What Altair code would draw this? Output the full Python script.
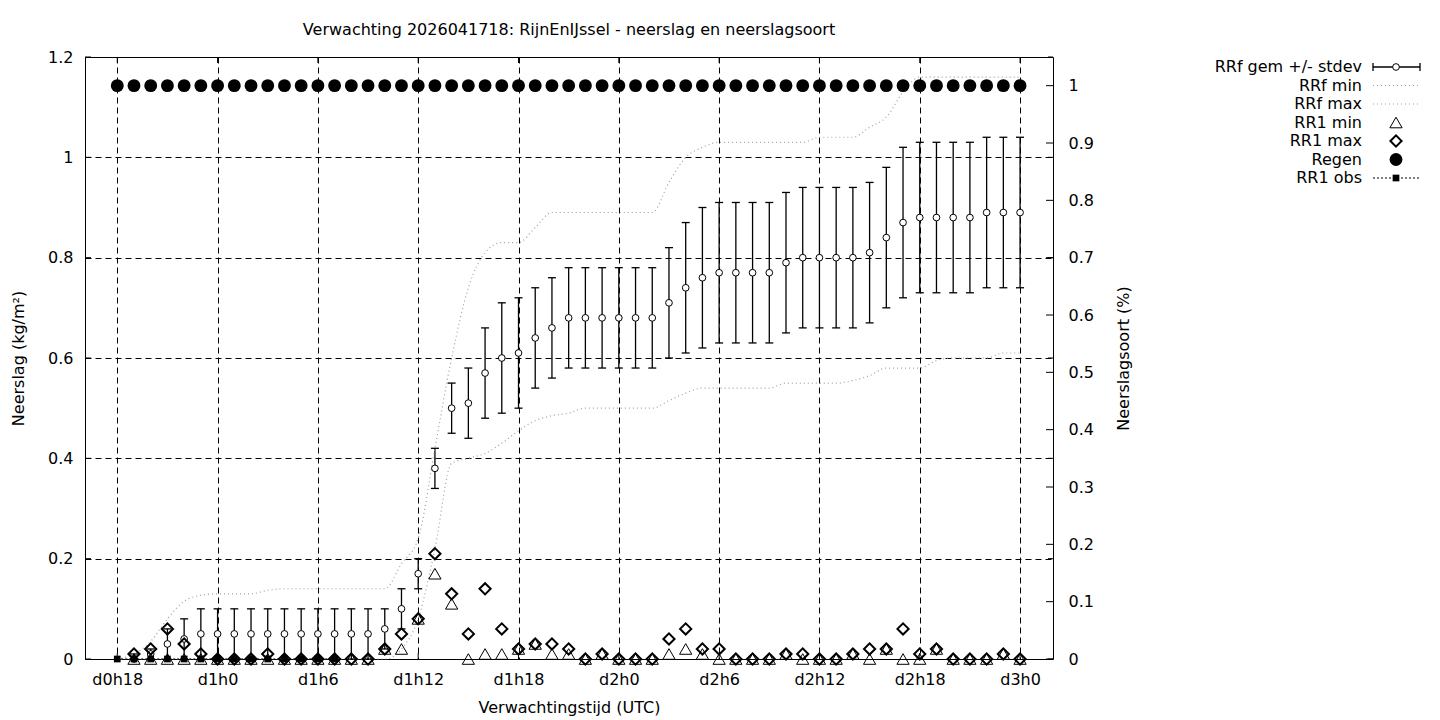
import altair as alt
import pandas as pd

FONT = "DejaVu Sans"
FS = 16
GRAY = "#a0a0a0"

# ---------------- data ----------------
hours = list(range(55))  # hours since d0h18

rrf_mean = [None, 0.00, 0.01, 0.03, 0.04, 0.05,
            0.05, 0.05, 0.05, 0.05, 0.05, 0.05, 0.05, 0.05, 0.05, 0.05,
            0.06, 0.10, 0.17, 0.38, 0.50, 0.51, 0.57, 0.60, 0.61, 0.64,
            0.66, 0.68, 0.68, 0.68, 0.68, 0.68, 0.68, 0.71, 0.74, 0.76,
            0.77, 0.77, 0.77, 0.77, 0.79, 0.80, 0.80, 0.80, 0.80, 0.81,
            0.84, 0.87, 0.88, 0.88, 0.88, 0.88, 0.89, 0.89, 0.89]
rrf_sd = [None, 0.01, 0.01, 0.03, 0.04, 0.05,
          0.05, 0.05, 0.05, 0.05, 0.05, 0.05, 0.05, 0.05, 0.05, 0.05,
          0.04, 0.04, 0.03, 0.04, 0.05, 0.07, 0.09, 0.11, 0.11, 0.10,
          0.10, 0.10, 0.10, 0.10, 0.10, 0.10, 0.10, 0.11, 0.13, 0.14,
          0.14, 0.14, 0.14, 0.14, 0.14, 0.14, 0.14, 0.14, 0.14, 0.14,
          0.14, 0.15, 0.15, 0.15, 0.15, 0.15, 0.15, 0.15, 0.15]
rrf_min = [0.0, 0.0, 0.0, 0.0, 0.0, 0.0, 0.0, 0.0, 0.0, 0.0,
           0.0, 0.0, 0.0, 0.0, 0.0, 0.0, 0.0, 0.02, 0.08, 0.22,
           0.39, 0.40, 0.41, 0.43, 0.455, 0.475, 0.485, 0.49, 0.50, 0.50,
           0.50, 0.50, 0.50, 0.515, 0.53, 0.54, 0.54, 0.54, 0.54, 0.54,
           0.55, 0.55, 0.55, 0.55, 0.555, 0.565, 0.58, 0.58, 0.58, 0.595,
           0.60, 0.60, 0.60, 0.61, 0.61]
rrf_max = [0.0, 0.01, 0.035, 0.08, 0.115, 0.127, 0.13, 0.13, 0.13, 0.137,
           0.14, 0.14, 0.14, 0.14, 0.14, 0.14, 0.14, 0.19, 0.24, 0.42,
           0.60, 0.74, 0.81, 0.83, 0.83, 0.86, 0.89, 0.89, 0.89, 0.89,
           0.89, 0.89, 0.89, 0.95, 1.00, 1.02, 1.03, 1.03, 1.03, 1.03,
           1.03, 1.03, 1.04, 1.04, 1.04, 1.06, 1.08, 1.13, 1.16, 1.16,
           1.16, 1.16, 1.16, 1.16, 1.16]
rr1_min = [None, 0, 0, 0, 0, 0, 0, 0, 0, 0,
           0, 0, 0, 0, 0, 0, 0.02, 0.02, 0.08, 0.17,
           0.11, 0, 0.01, 0.01, 0.02, 0.03, 0.01, 0.01, 0, 0.01,
           0, 0, 0, 0.01, 0.02, 0.01, 0, 0, 0, 0,
           0.01, 0, 0, 0, 0.01, 0, 0.02, 0, 0, 0.02,
           0, 0, 0, 0.01, 0]
rr1_max = [None, 0.01, 0.02, 0.06, 0.03, 0.01, 0, 0, 0, 0.01,
           0, 0, 0, 0, 0, 0, 0.02, 0.05, 0.08, 0.21,
           0.13, 0.05, 0.14, 0.06, 0.02, 0.03, 0.03, 0.02, 0, 0.01,
           0, 0, 0, 0.04, 0.06, 0.02, 0.02, 0, 0, 0,
           0.01, 0.01, 0, 0, 0.01, 0.02, 0.02, 0.06, 0.01, 0.02,
           0, 0, 0, 0.01, 0]
regen = [1, 1, 1, 1, 1, 1, 1, 1, 1, 1, 1, 1, 1, 1, 1, 1, 1, 1, 1, 1,
         1, 1, 1, 1, 1, 1, 1, 1, 1, 1, 1, 1, 1, 1, 1, 1, 1, 1, 1, 1,
         1, 1, 1, 1, 1, 1, 1, 1, 1, 1, 1, 1, 1, 1, 1]
obs_hours = [0, 1, 2, 3, 4, 5, 6, 7, 8, 9, 10, 11, 12, 13]
obs_vals = [0, 0, 0, 0, 0, 0, 0, 0, 0, 0, 0, 0, 0, 0]

x_tick_values = [0, 6, 12, 18, 24, 30, 36, 42, 48, 54]
x_tick_labels = ["d0h18", "d1h0", "d1h6", "d1h12", "d1h18",
                 "d2h0", "d2h6", "d2h12", "d2h18", "d3h0"]
y_tick_values = [0, 0.2, 0.4, 0.6, 0.8, 1.0, 1.2]
y_tick_labels = ["0", "0.2", "0.4", "0.6", "0.8", "1", "1.2"]
y2_tick_values = [0, 0.1, 0.2, 0.3, 0.4, 0.5, 0.6, 0.7, 0.8, 0.9, 1.0]
y2_tick_labels = ["0", "0.1", "0.2", "0.3", "0.4", "0.5",
                  "0.6", "0.7", "0.8", "0.9", "1"]

legend_labels = ["RRf gem +/- stdev", "RRf min", "RRf max",
                 "RR1 min", "RR1 max", "Regen", "RR1 obs"]
legend_kinds = ["err", "min", "max", "tri", "dia", "rain", "obs"]

title_text = "Verwachting 2026041718: RijnEnIJssel - neerslag en neerslagsoort"

# ---------------- frames ----------------
df = pd.DataFrame({
    "h": hours, "mean": rrf_mean, "sd": rrf_sd, "rmin": rrf_min,
    "rmax": rrf_max, "r1min": rr1_min, "r1max": rr1_max, "regen": regen,
})
obs = pd.DataFrame({"h": obs_hours, "v": obs_vals})
xt = pd.DataFrame({"v": x_tick_values})
yt = pd.DataFrame({"v": y_tick_values})
y2t = pd.DataFrame({"v": y2_tick_values})

W, H = 968, 602

xscale = alt.Scale(domain=[-1.93, 55.97], nice=False, zero=False)
yscale = alt.Scale(domain=[0, 1.2], nice=False, zero=False)
y2scale = alt.Scale(domain=[0, 1.05], nice=False, zero=False)

common_axis = dict(labelFont=FONT, labelFontSize=FS, labelColor="black",
                   titleFont=FONT, titleFontSize=FS, titleFontWeight="normal",
                   titleColor="black", ticks=False, domain=False,
                   labelFlush=False)


def list_expr(labels, idx):
    return "[" + ",".join("'%s'" % s for s in labels) + "][" + idx + "]"


# the same x axis definition is given to every layer so the shared axis stays enabled
x_axis = alt.Axis(values=x_tick_values,
                  labelExpr=list_expr(x_tick_labels, "round(datum.value/6)"),
                  title="Verwachtingstijd (UTC)", grid=True, gridColor="black",
                  gridDash=[6, 4], gridWidth=1, gridOpacity=1, labelPadding=12,
                  titleX=484, titleY=48, titleBaseline="middle",
                  **common_axis)
y_axis = alt.Axis(values=y_tick_values, orient="left",
                  labelExpr=list_expr(y_tick_labels, "round(datum.value*5)"),
                  title="Neerslag (kg/m²)", grid=True, gridColor="black",
                  gridDash=[6, 4], gridWidth=1, gridOpacity=1, labelPadding=12,
                  titleX=-67, titleY=301, titleAngle=270, titleBaseline="middle",
                  **common_axis)
y2_axis = alt.Axis(values=y2_tick_values, orient="right",
                   labelExpr=list_expr(y2_tick_labels, "round(datum.value*10)"),
                   title="Neerslagsoort (%)", grid=False, labelPadding=15,
                   titleX=70, titleY=301, titleAngle=270, titleBaseline="middle",
                   **common_axis)


def X(field):
    return alt.X(field, type="quantitative", scale=xscale, axis=x_axis)


def Y(field, axis=None):
    return alt.Y(field, type="quantitative", scale=yscale, axis=axis)


base = alt.Chart(df)
errbase = base.transform_filter("isValid(datum.mean)").transform_calculate(
    lo="max(0, datum.mean - datum.sd)", hi="datum.mean + datum.sd")

err_rule = errbase.mark_rule(color="black", strokeWidth=1.3).encode(
    x=X("h"), y=Y("lo", y_axis), y2="hi:Q")
err_caps = errbase.transform_fold(["lo", "hi"], as_=["k", "val"]).mark_tick(
    orient="horizontal", size=8, thickness=1.3, color="black", opacity=1).encode(
    x=X("h"), y=Y("val"))
max_line = base.mark_line(color=GRAY, strokeDash=[1, 3], strokeWidth=1.2,
                          interpolate="monotone").encode(x=X("h"), y=Y("rmax"))
min_line = base.mark_line(color=GRAY, strokeDash=[1, 3], strokeWidth=1.2,
                          interpolate="monotone").encode(x=X("h"), y=Y("rmin"))
mean_pts = base.transform_filter("isValid(datum.mean)").mark_point(
    shape="circle", filled=True, fill="white", stroke="black", strokeWidth=1,
    size=45, opacity=1).encode(x=X("h"), y=Y("mean"))
tri_pts = base.transform_filter("isValid(datum.r1min)").mark_point(
    shape="triangle-up", filled=False, stroke="black", strokeWidth=1,
    size=150, opacity=1).encode(x=X("h"), y=Y("r1min"))
dia_pts = base.transform_filter("isValid(datum.r1max)").mark_point(
    shape="diamond", filled=False, stroke="black", strokeWidth=2,
    size=125, opacity=1).encode(x=X("h"), y=Y("r1max"))
obs_line = alt.Chart(obs).mark_line(color="black", strokeDash=[2, 2],
                                    strokeWidth=1).encode(x=X("h"), y=Y("v"))
obs_pts = alt.Chart(obs).mark_point(shape="square", filled=True, color="black",
                                    size=45, opacity=1).encode(x=X("h"), y=Y("v"))

xtick_b = alt.Chart(xt).mark_rule(color="black").encode(
    x=X("v"), y=alt.value(H), y2=alt.value(H - 6))
xtick_t = alt.Chart(xt).mark_rule(color="black").encode(
    x=X("v"), y=alt.value(0), y2=alt.value(6))
ytick_l = alt.Chart(yt).mark_rule(color="black").encode(
    y=Y("v"), x=alt.value(0), x2=alt.value(6))
ytick_r = alt.Chart(yt).mark_rule(color="black").encode(
    y=Y("v"), x=alt.value(W - 5), x2=alt.value(W))

rain_pts = base.mark_point(shape="circle", filled=True, color="black", size=165,
                           opacity=1).encode(
    x=X("h"), y=alt.Y("regen:Q", scale=y2scale, axis=y2_axis))
y2tick = alt.Chart(y2t).mark_rule(color="black").encode(
    y=alt.Y("v:Q", scale=y2scale, axis=None), x=alt.value(W - 7), x2=alt.value(W))

# ---------------- legend (gnuplot style key, top right) ----------------
LX_TEXT, LX0, LX1, LXC = 1277, 1288, 1335, 1311
legend_layers = []
for i, (lab, kind) in enumerate(zip(legend_labels, legend_kinds)):
    ly = 10 + i * 18.5
    src = alt.Chart(pd.DataFrame({"label": [lab]}))
    legend_layers.append(src.mark_text(align="right", baseline="middle", font=FONT,
                                       fontSize=FS, color="black").encode(
        x=alt.value(LX_TEXT), y=alt.value(ly), text="label:N"))
    if kind == "err":
        legend_layers.append(src.mark_rule(color="black", strokeWidth=1.3).encode(
            x=alt.value(LX0), x2=alt.value(LX1), y=alt.value(ly)))
        for cx in (LX0, LX1):
            legend_layers.append(src.mark_rule(color="black", strokeWidth=1.3).encode(
                x=alt.value(cx), y=alt.value(ly - 4), y2=alt.value(ly + 4)))
        legend_layers.append(src.mark_point(shape="circle", filled=True, fill="white",
                                            stroke="black", strokeWidth=1, size=45,
                                            opacity=1).encode(
            x=alt.value(LXC), y=alt.value(ly)))
    elif kind in ("min", "max"):
        legend_layers.append(src.mark_rule(color=GRAY, strokeDash=[1, 3],
                                           strokeWidth=1.2).encode(
            x=alt.value(LX0), x2=alt.value(LX1), y=alt.value(ly)))
    elif kind == "tri":
        legend_layers.append(src.mark_point(shape="triangle-up", filled=False,
                                            stroke="black", strokeWidth=1, size=150,
                                            opacity=1).encode(
            x=alt.value(LXC), y=alt.value(ly)))
    elif kind == "dia":
        legend_layers.append(src.mark_point(shape="diamond", filled=False,
                                            stroke="black", strokeWidth=2, size=125,
                                            opacity=1).encode(
            x=alt.value(LXC), y=alt.value(ly)))
    elif kind == "rain":
        legend_layers.append(src.mark_point(shape="circle", filled=True, color="black",
                                            size=165, opacity=1).encode(
            x=alt.value(LXC), y=alt.value(ly)))
    elif kind == "obs":
        legend_layers.append(src.mark_rule(color="black", strokeDash=[2, 2],
                                           strokeWidth=1).encode(
            x=alt.value(LX0), x2=alt.value(LX1), y=alt.value(ly)))
        legend_layers.append(src.mark_point(shape="square", filled=True, color="black",
                                            size=45, opacity=1).encode(
            x=alt.value(LXC), y=alt.value(ly)))

chart = alt.layer(
    err_rule, err_caps, min_line, max_line, mean_pts, tri_pts, dia_pts,
    obs_line, obs_pts, xtick_b, xtick_t, ytick_l, ytick_r,
    rain_pts, y2tick, *legend_layers
).resolve_scale(y="independent").properties(
    width=W, height=H,
    autosize=alt.AutoSizeParams(type="none"),
    padding={"left": 77, "top": 49, "right": 379, "bottom": 60},
    background="white",
    title=alt.TitleParams(text=title_text, font=FONT, fontSize=FS,
                          fontWeight="normal", color="black", anchor="middle",
                          offset=11),
).configure_view(stroke="black", strokeWidth=1)

chart.save("out.html", embed_options={"renderer": "svg", "actions": False})
